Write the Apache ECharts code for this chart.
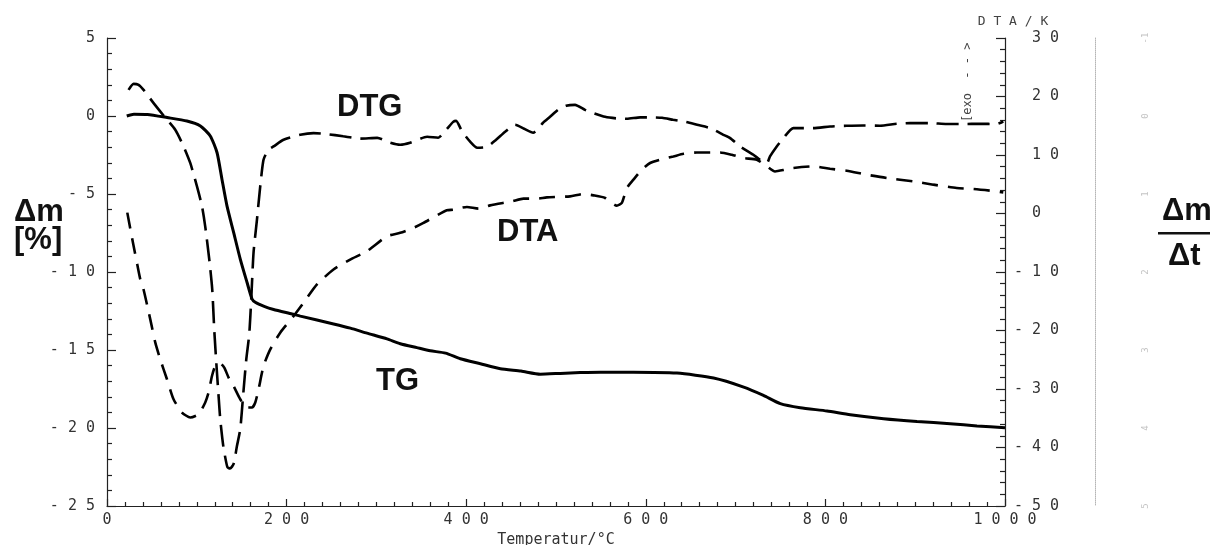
<!DOCTYPE html>
<html>
<head>
<meta charset="utf-8">
<script src="https://cdn.jsdelivr.net/npm/echarts@6/dist/echarts.min.js"></script>
<style>
  html, body { margin: 0; padding: 0; background: #fff; }
  #chart { width: 1212px; height: 545px; }
</style>
</head>
<body>
<div id="chart"></div>
<script>
// Thermal analysis run: TG (mass change), DTG (rate of mass change) and DTA (temperature difference)

// TG curve: temperature in °C, mass change in %
const tgTemp = [22, 30, 45, 67, 89, 104, 115, 122.5, 128, 133.6, 141, 148.4, 155.9, 161.5, 165.1, 175, 185.5, 206, 215.3,
  252.3, 271, 289.5, 311.8, 326.6, 345, 360, 377, 393.5, 415.8, 438, 461, 482.5, 504.8, 527, 549.6, 586, 634.7,
  675.5, 709, 731, 749.8, 772, 801.8, 827.7, 864.8, 902, 939, 968.8, 1000];
const tgMass = [0, 0.12, 0.1, -0.1, -0.32, -0.64, -1.28, -2.34, -4.05, -5.76, -7.46, -9.17, -10.66, -11.73, -11.94, -12.2, -12.4, -12.69, -12.83,
  -13.33, -13.6, -13.92, -14.29, -14.6, -14.85, -15.05, -15.2, -15.56, -15.88, -16.2, -16.35, -16.55, -16.5, -16.45, -16.42, -16.42, -16.48,
  -16.8, -17.38, -17.91, -18.44, -18.7, -18.91, -19.15, -19.4, -19.58, -19.72, -19.87, -19.98];

// DTG curve: temperature in °C, rate of mass loss (Δm/Δt, plotted downward)
const dtgTemp = [24, 29.6, 35.2, 40.7, 51.9, 63.8, 76, 85.3, 92.7, 100.2, 105.8, 109.4, 113.9, 117.2, 119.4, 122.2, 124.5, 126.1, 129.5,
  134, 137, 141, 144.7, 148.4, 151.7, 155.1, 158.4, 160.6, 163.2, 167, 170.6, 174.3, 179.6, 185.5, 196.6, 215.2, 230, 244.9,
  263, 282, 300.9, 315.4, 326.5, 337.6, 356.5, 368.8, 377.7, 385.5, 388.8, 395.5, 404.4, 412.2, 423.3, 433.3, 443.4, 454.5,
  464.5, 474.5, 485.6, 493.4, 502.3, 511.2, 521.2, 532.3, 541.2, 554.6, 566.8, 579, 593.7, 605.9, 618.2, 630.4, 643.8,
  657.2, 671.6, 686.4, 693.9, 705, 719.8, 727.2, 735, 738.3, 745.8, 753.2, 764.3, 786.6, 805.2, 823.8, 842.2, 860.8,
  879.4, 894.2, 916.4, 935, 953.6, 972.1, 990.7, 998.1];
const dtgRate = [-0.335, -0.412, -0.399, -0.335, -0.165, 0.006, 0.177, 0.39, 0.602, 0.902, 1.158, 1.418, 1.84, 2.224, 2.735, 3.247, 3.631, 3.887, 4.232,
  4.5, 4.52, 4.46, 4.232, 4.015, 3.567, 3.119, 2.8, 2.352, 1.75, 1.328, 0.906, 0.561, 0.433, 0.39, 0.305, 0.241, 0.219, 0.232,
  0.26, 0.29, 0.28, 0.343, 0.369, 0.343, 0.266, 0.279, 0.177, 0.075, 0.062, 0.2, 0.33, 0.407, 0.394, 0.305, 0.202, 0.113,
  0.164, 0.215, 0.087, 0.011, -0.079, -0.13, -0.143, -0.079, -0.04, 0.011, 0.03, 0.036, 0.017, 0.017, 0.023, 0.049, 0.074,
  0.113, 0.155, 0.241, 0.283, 0.39, 0.497, 0.561, 0.6, 0.518, 0.39, 0.283, 0.155, 0.155, 0.134, 0.125, 0.121, 0.125,
  0.1, 0.091, 0.091, 0.103, 0.103, 0.1, 0.103, 0.071];

// DTA curve: temperature in °C, temperature difference in K
const dtaTemp = [22.6, 29.3, 33.7, 37.1, 40.7, 48.2, 53.8, 59.3, 66.8, 74.1, 83.5, 92.7, 102, 109.4, 113.1, 116.9, 120.6, 126.1, 130.6,
  135.4, 140.9, 148.4, 155.8, 161.4, 165.1, 168.8, 174.3, 181.8, 192.9, 207.7, 218.9, 233.8, 252.2, 270.8, 289.4, 311.7, 326.5,
  341.3, 352.4, 365.5, 378.5, 385.8, 400.8, 413.7, 426.7, 450.8, 463.8, 478.7, 489.8, 515.7, 530.6, 541.7, 554.7, 567.7, 573.3,
  578.9, 586.2, 595.6, 604.8, 616, 630.7, 642, 656.8, 682.7, 695.8, 708.7, 723.6, 734, 743.9, 755, 764.3, 786.6, 805.2, 823.8,
  846, 868.3, 897.9, 920.2, 946.2, 964.7, 983.3, 998.1];
const dtaDiff = [0.15, -5.31, -8.72, -11.28, -12.99, -18.1, -22.08, -24.93, -28.34, -31.75, -34.02, -34.87, -34.31, -32.31, -30.61, -27.77, -26.07, -25.61, -26.34,
  -28.05, -29.48, -31.75, -33.17, -33.17, -32.31, -30.04, -26.07, -23.22, -20.37, -17.54, -15.25, -12.13, -9.57, -7.87, -6.45, -3.89, -3.31,
  -2.46, -1.61, -0.48, 0.54, 0.66, 1.12, 0.83, 1.39, 2.08, 2.54, 2.54, 2.76, 2.93, 3.34, 3.1, 2.66, 1.34, 1.8,
  4.36, 5.78, 7.48, 8.63, 9.19, 9.75, 10.21, 10.43, 10.43, 10.04, 9.48, 9.19, 8.17, 7.19, 7.48, 7.77, 8.05, 7.65, 7.31,
  6.63, 6.07, 5.49, 4.93, 4.36, 4.19, 3.9, 3.61];

// Axis ranges and tick steps
const tempRange = [0, 1000, 200];
const massRange = [-25, 5, 5];
const dtaRange = [-50, 30, 10];
const rateRange = [-1, 5, 1];

const pairs = (xs, ys) => xs.map((x, i) => [x, ys[i]]);
const spaced = v => String(v).split('').join('\u2009');
// right-hand labels keep their digits in one column; the minus sign hangs to the left
const signColumn = v => (v < 0 ? '' : ' \u2009') + spaced(v);

const tickFont = { fontFamily: 'DejaVu Sans Mono', fontSize: 15, color: '#333' };
const axisInk = { color: '#222', width: 1.2 };
const bigFont = 'bold 31px "Liberation Sans", Arial, sans-serif';

const chart = echarts.init(document.getElementById('chart'), null, { renderer: 'canvas' });

chart.setOption({
  animation: false,
  backgroundColor: '#fff',
  grid: { left: 107, right: 207, top: 38, bottom: 39, containLabel: false, outerBoundsMode: 'none' },
  xAxis: {
    type: 'value',
    min: tempRange[0], max: tempRange[1], interval: tempRange[2],
    name: 'Temperatur/°C',
    nameLocation: 'middle',
    nameGap: 22,
    nameTextStyle: { fontFamily: 'DejaVu Sans Mono', fontSize: 15, color: '#333' },
    axisLine: { show: true, onZero: false, lineStyle: axisInk },
    axisTick: { show: true, inside: true, length: 7, lineStyle: axisInk },
    minorTick: { show: true, splitNumber: 10, length: 4, lineStyle: axisInk },
    splitLine: { show: false },
    axisLabel: Object.assign({ margin: 7, formatter: spaced }, tickFont)
  },
  yAxis: [
    {
      type: 'value',
      position: 'left',
      min: massRange[0], max: massRange[1], interval: massRange[2],
      axisLine: { show: true, onZero: false, lineStyle: axisInk },
      axisTick: { show: true, inside: true, length: 9, lineStyle: axisInk },
      minorTick: { show: true, splitNumber: 5, length: 5, lineStyle: axisInk },
      splitLine: { show: false },
      axisLabel: Object.assign({ margin: 12, formatter: spaced }, tickFont)
    },
    {
      type: 'value',
      position: 'right',
      min: dtaRange[0], max: dtaRange[1], interval: dtaRange[2],
      name: 'D\u2009T\u2009A\u2009/\u2009K',
      nameLocation: 'end',
      nameGap: 10,
      nameTextStyle: { fontFamily: 'DejaVu Sans Mono', fontSize: 13, color: '#444', align: 'center', padding: [0, 0, 0, 16] },
      axisLine: { show: true, onZero: false, lineStyle: axisInk },
      axisTick: { show: true, inside: true, length: 9, lineStyle: axisInk },
      minorTick: { show: true, splitNumber: 5, length: 5, lineStyle: axisInk },
      splitLine: { show: false },
      axisLabel: Object.assign({ margin: 9, formatter: signColumn }, tickFont)
    },
    {
      type: 'value',
      position: 'right',
      offset: 90,
      inverse: true,
      min: rateRange[0], max: rateRange[1], interval: rateRange[2],
      axisLine: { show: true, onZero: false, lineStyle: { color: '#b5b5b5', width: 1, type: 'dotted' } },
      axisTick: { show: false },
      splitLine: { show: false },
      axisLabel: { margin: 46, rotate: 90, fontFamily: 'DejaVu Sans Mono', fontSize: 9, color: '#c4c4c4' }
    }
  ],
  graphic: [
    { type: 'text', left: 14, top: 197, style: { text: 'Δm', font: bigFont, fill: '#111' } },
    { type: 'text', left: 14, top: 225, style: { text: '[%]', font: bigFont, fill: '#111' } },
    { type: 'text', left: 1162, top: 196, style: { text: 'Δm', font: bigFont, fill: '#111' } },
    { type: 'rect', shape: { x: 1158, y: 232, width: 52, height: 2.5 }, style: { fill: '#111' } },
    { type: 'text', left: 1168, top: 241, style: { text: 'Δt', font: bigFont, fill: '#111' } },
    { type: 'text', left: 337, top: 92, style: { text: 'DTG', font: bigFont, fill: '#111' } },
    { type: 'text', left: 497, top: 217, style: { text: 'DTA', font: bigFont, fill: '#111' } },
    { type: 'text', left: 376, top: 366, style: { text: 'TG', font: bigFont, fill: '#111' } },
    { type: 'text', x: 962, y: 122, rotation: Math.PI / 2,
      style: { text: '[exo \u2009- - >', font: '12px "DejaVu Sans Mono", monospace', fill: '#444' } }
  ],
  series: [
    {
      name: 'TG', type: 'line', yAxisIndex: 0, showSymbol: false, symbol: 'none', smooth: 0.2,
      lineStyle: { color: '#000', width: 3 },
      data: pairs(tgTemp, tgMass)
    },
    {
      name: 'DTG', type: 'line', yAxisIndex: 2, showSymbol: false, symbol: 'none', smooth: 0.2,
      lineStyle: { color: '#000', width: 2.6, type: [22, 9] },
      data: pairs(dtgTemp, dtgRate)
    },
    {
      name: 'DTA', type: 'line', yAxisIndex: 1, showSymbol: false, symbol: 'none', smooth: 0.2,
      lineStyle: { color: '#000', width: 2.6, type: [16, 10] },
      data: pairs(dtaTemp, dtaDiff)
    }
  ]
});
</script>
</body>
</html>
